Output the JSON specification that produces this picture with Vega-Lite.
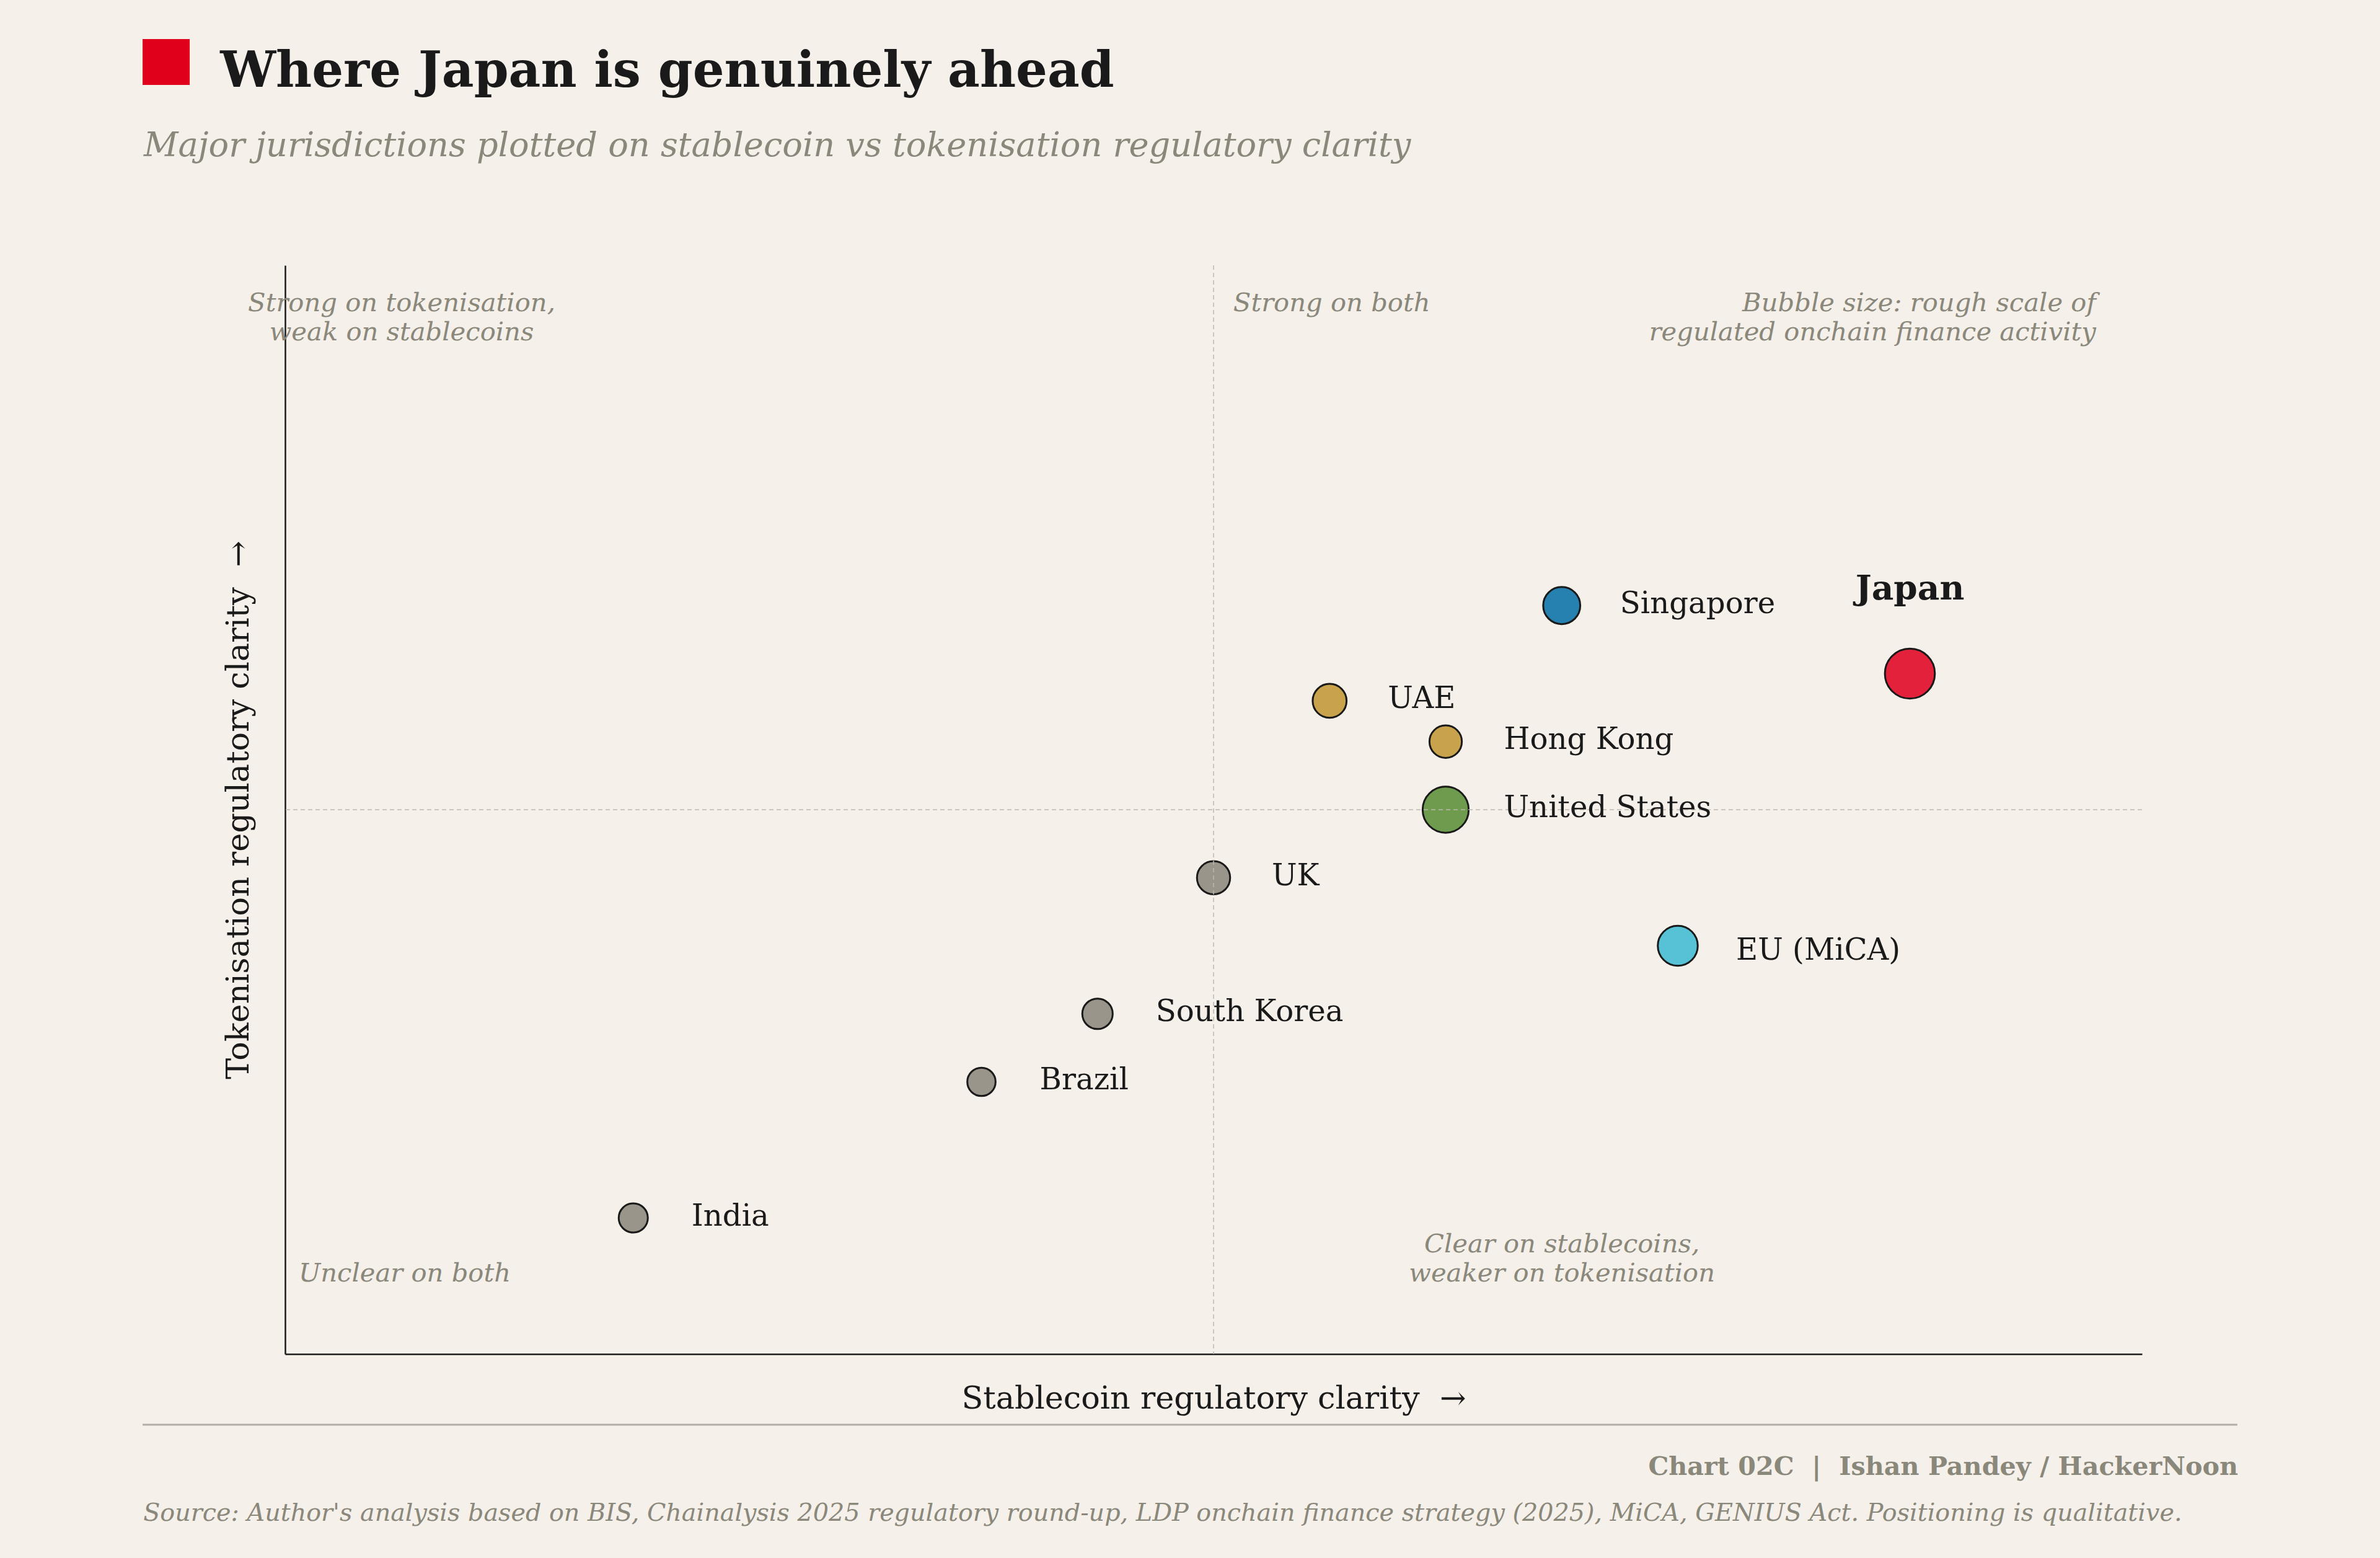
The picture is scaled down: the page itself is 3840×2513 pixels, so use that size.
{
  "$schema": "https://vega.github.io/schema/vega-lite/v6.json",
  "width": 2996,
  "height": 1756,
  "autosize": {"type": "none"},
  "padding": {"left": 460, "top": 428, "right": 384, "bottom": 329},
  "background": "#F5F0E9",
  "config": {
    "view": {"stroke": null},
    "font": "DejaVu Serif",
    "axis": {
      "domain": true,
      "domainColor": "#1a1a1a",
      "domainWidth": 2.5,
      "ticks": false,
      "labels": false,
      "grid": false,
      "titleFont": "DejaVu Serif",
      "titleFontSize": 50.8,
      "titleFontWeight": "normal",
      "titleColor": "#1a1a1a",
      "titleBaseline": "alphabetic"
    },
    "axisX": {"titleY": 87},
    "axisY": {"titleX": -60, "titleY": 878, "titleAngle": -90, "titleAlign": "center"}
  },
  "data": {
    "values": [
      {"name": "Japan", "stablecoin": 7.0, "tokenisation": 5.0, "activity": 100},
      {"name": "Singapore", "stablecoin": 5.5, "tokenisation": 5.5, "activity": 55},
      {"name": "UAE", "stablecoin": 4.5, "tokenisation": 4.8, "activity": 46},
      {"name": "Hong Kong", "stablecoin": 5.0, "tokenisation": 4.5, "activity": 42},
      {"name": "United States", "stablecoin": 5.0, "tokenisation": 4.0, "activity": 85},
      {"name": "UK", "stablecoin": 4.0, "tokenisation": 3.5, "activity": 44},
      {"name": "EU (MiCA)", "stablecoin": 6.0, "tokenisation": 3.0, "activity": 64},
      {"name": "South Korea", "stablecoin": 3.5, "tokenisation": 2.5, "activity": 37},
      {"name": "Brazil", "stablecoin": 3.0, "tokenisation": 2.0, "activity": 32},
      {"name": "India", "stablecoin": 1.5, "tokenisation": 1.0, "activity": 34}
    ]
  },
  "layer": [
    {
      "mark": {"type": "circle", "opacity": 1, "stroke": "#1a1a1a", "strokeWidth": 3},
      "encoding": {
        "x": {
          "field": "stablecoin",
          "type": "quantitative",
          "scale": {"domain": [0, 8], "nice": false, "zero": false},
          "axis": {"title": "Stablecoin regulatory clarity \u00a0→"}
        },
        "y": {
          "field": "tokenisation",
          "type": "quantitative",
          "scale": {"domain": [0, 8], "nice": false, "zero": false},
          "axis": {"title": "Tokenisation regulatory clarity \u00a0→"}
        },
        "size": {
          "field": "activity",
          "type": "quantitative",
          "scale": {"domain": [0, 100], "range": [0, 6500]},
          "legend": null
        },
        "color": {
          "field": "name",
          "type": "nominal",
          "scale": {
            "domain": ["Japan", "Singapore", "UAE", "Hong Kong", "United States", "UK", "EU (MiCA)", "South Korea", "Brazil", "India"],
            "range": ["#E3213A", "#2680B0", "#C9A34C", "#C9A34C", "#6E9B4D", "#9A958B", "#57C1D5", "#9A958B", "#9A958B", "#9A958B"]
          },
          "legend": null
        }
      }
    },
    {
      "data": {"values": [{}]},
      "mark": {"type": "rule", "stroke": "#BDB8AF", "strokeWidth": 1.5, "strokeDash": [7, 5]},
      "encoding": {"x": {"datum": 4}}
    },
    {
      "data": {"values": [{}]},
      "mark": {"type": "rule", "stroke": "#BDB8AF", "strokeWidth": 1.5, "strokeDash": [7, 5]},
      "encoding": {"y": {"datum": 4}}
    },
    {
      "transform": [{"filter": "datum.name !== 'Japan' && datum.name !== 'EU (MiCA)'"}],
      "mark": {"type": "text", "align": "left", "baseline": "alphabetic", "dx": 94, "dy": 12, "fontSize": 48.2, "color": "#1a1a1a", "font": "DejaVu Serif"},
      "encoding": {
        "x": {"field": "stablecoin", "type": "quantitative"},
        "y": {"field": "tokenisation", "type": "quantitative"},
        "text": {"field": "name"}
      }
    },
    {
      "transform": [{"filter": "datum.name === 'EU (MiCA)'"}],
      "mark": {"type": "text", "align": "left", "baseline": "alphabetic", "dx": 94, "dy": 22, "fontSize": 48.2, "color": "#1a1a1a", "font": "DejaVu Serif"},
      "encoding": {
        "x": {"field": "stablecoin", "type": "quantitative"},
        "y": {"field": "tokenisation", "type": "quantitative"},
        "text": {"field": "name"}
      }
    },
    {
      "transform": [{"filter": "datum.name === 'Japan'"}],
      "mark": {"type": "text", "align": "center", "baseline": "alphabetic", "dy": -120, "fontSize": 55, "fontWeight": "bold", "color": "#1a1a1a", "font": "DejaVu Serif"},
      "encoding": {
        "x": {"field": "stablecoin", "type": "quantitative"},
        "y": {"field": "tokenisation", "type": "quantitative"},
        "text": {"field": "name"}
      }
    },
    {
      "data": {"values": [{}]},
      "mark": {"type": "text", "align": "center", "baseline": "alphabetic", "fontSize": 41.7, "fontStyle": "italic", "lineHeight": 47, "color": "#8A877B", "font": "DejaVu Serif",
        "text": ["Strong on tokenisation,", "weak on stablecoins"]},
      "encoding": {"x": {"datum": 0.502}, "y": {"datum": 7.663}}
    },
    {
      "data": {"values": [{}]},
      "mark": {"type": "text", "align": "left", "baseline": "alphabetic", "fontSize": 41.7, "fontStyle": "italic", "color": "#8A877B", "font": "DejaVu Serif",
        "text": "Strong on both"},
      "encoding": {"x": {"datum": 4.085}, "y": {"datum": 7.663}}
    },
    {
      "data": {"values": [{}]},
      "mark": {"type": "text", "align": "right", "baseline": "alphabetic", "fontSize": 41.7, "fontStyle": "italic", "lineHeight": 47, "color": "#8A877B", "font": "DejaVu Serif",
        "text": ["Bubble size: rough scale of", "regulated onchain finance activity"]},
      "encoding": {"x": {"datum": 7.802}, "y": {"datum": 7.663}}
    },
    {
      "data": {"values": [{}]},
      "mark": {"type": "text", "align": "left", "baseline": "alphabetic", "fontSize": 41.7, "fontStyle": "italic", "color": "#8A877B", "font": "DejaVu Serif",
        "text": "Unclear on both"},
      "encoding": {"x": {"datum": 0.059}, "y": {"datum": 0.533}}
    },
    {
      "data": {"values": [{}]},
      "mark": {"type": "text", "align": "center", "baseline": "alphabetic", "fontSize": 41.7, "fontStyle": "italic", "lineHeight": 47, "color": "#8A877B", "font": "DejaVu Serif",
        "text": ["Clear on stablecoins,", "weaker on tokenisation"]},
      "encoding": {"x": {"datum": 5.501}, "y": {"datum": 0.747}}
    },
    {
      "data": {"values": [{}]},
      "mark": {"type": "rect", "color": "#E1001B"},
      "encoding": {
        "x": {"datum": -0.614}, "x2": {"datum": -0.411},
        "y": {"datum": 9.663}, "y2": {"datum": 9.326}
      }
    },
    {
      "data": {"values": [{}]},
      "mark": {"type": "text", "align": "left", "baseline": "alphabetic", "fontSize": 80, "fontWeight": "bold", "color": "#1a1a1a", "font": "DejaVu Serif",
        "text": "Where Japan is genuinely ahead"},
      "encoding": {"x": {"datum": -0.28}, "y": {"datum": 9.312}}
    },
    {
      "data": {"values": [{}]},
      "mark": {"type": "text", "align": "left", "baseline": "alphabetic", "fontSize": 54.2, "fontStyle": "italic", "color": "#8A877B", "font": "DejaVu Serif",
        "text": "Major jurisdictions plotted on stablecoin vs tokenisation regulatory clarity"},
      "encoding": {"x": {"datum": -0.609}, "y": {"datum": 8.802}}
    },
    {
      "data": {"values": [{}]},
      "mark": {"type": "rule", "stroke": "#B3AEA6", "strokeWidth": 3},
      "encoding": {
        "x": {"datum": -0.614}, "x2": {"datum": 8.411},
        "y": {"datum": -0.519}
      }
    },
    {
      "data": {"values": [{}]},
      "mark": {"type": "text", "align": "right", "baseline": "alphabetic", "fontSize": 41.3, "fontWeight": "bold", "color": "#8A877B", "font": "DejaVu Serif",
        "text": "Chart 02C \u00a0| \u00a0Ishan Pandey / HackerNoon"},
      "encoding": {"x": {"datum": 8.414}, "y": {"datum": -0.888}}
    },
    {
      "data": {"values": [{}]},
      "mark": {"type": "text", "align": "left", "baseline": "alphabetic", "fontSize": 39.7, "fontStyle": "italic", "color": "#8A877B", "font": "DejaVu Serif",
        "text": "Source: Author's analysis based on BIS, Chainalysis 2025 regulatory round-up, LDP onchain finance strategy (2025), MiCA, GENIUS Act. Positioning is qualitative."},
      "encoding": {"x": {"datum": -0.611}, "y": {"datum": -1.2255}}
    }
  ]
}
